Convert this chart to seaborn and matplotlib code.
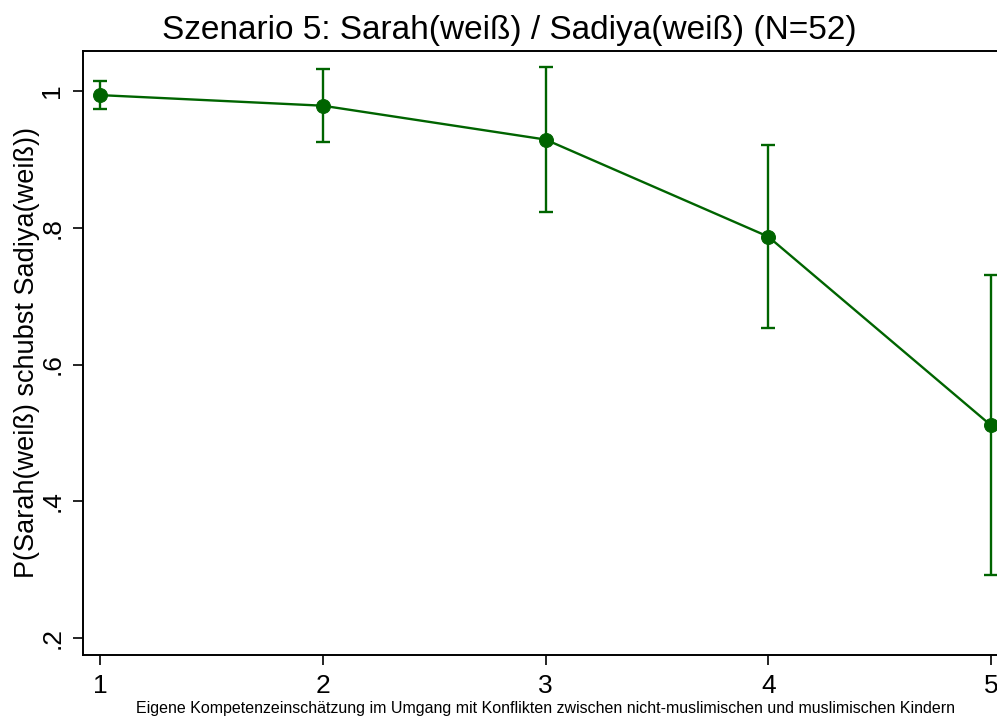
import matplotlib
matplotlib.use("Agg")
import matplotlib.pyplot as plt
import seaborn as sns
import pandas as pd

# Data
levels = [1, 2, 3, 4, 5]
prob = [0.994, 0.9785, 0.929, 0.787, 0.511]
ci_low = [0.973, 0.926, 0.823, 0.6535, 0.292]
ci_high = [1.015, 1.032, 1.035, 0.921, 0.731]
yticks = [0.2, 0.4, 0.6, 0.8, 1.0]
ytick_labels = [".2", ".4", ".6", ".8", "1"]

title = "Szenario 5: Sarah(weiß) / Sadiya(weiß) (N=52)"
xlabel = "Eigene Kompetenzeinschätzung im Umgang mit Konflikten zwischen nicht-muslimischen und muslimischen Kindern"
ylabel = "P(Sarah(weiß) schubst Sadiya(weiß))"

sns.set_theme(style="white")
plt.rcParams["font.family"] = ["Liberation Sans", "DejaVu Sans"]
plt.rcParams["text.color"] = "black"
plt.rcParams["xtick.color"] = "black"
plt.rcParams["ytick.color"] = "black"
plt.rcParams["axes.labelcolor"] = "black"

color = "#006400"
df = pd.DataFrame({"x": levels, "y": prob, "lo": ci_low, "hi": ci_high})

fig = plt.figure(figsize=(9.97, 7.17), dpi=100)
ax = fig.add_axes([83/997, 1 - 655/717, 925/997, (655 - 51)/717])

err_lo = [p - l for p, l in zip(prob, ci_low)]
err_hi = [h - p for p, h in zip(prob, ci_high)]
ax.errorbar(df["x"], df["y"], yerr=[err_lo, err_hi], fmt="none", ecolor=color,
            elinewidth=1.7, capsize=4.7, capthick=1.7, zorder=2)
sns.lineplot(data=df, x="x", y="y", ax=ax, color=color, marker="o",
             markersize=10, markeredgecolor=color, linewidth=1.7, zorder=3)

ax.set_xlim(1 - 17/222.75, 5 + 17/222.75)
ax.set_ylim(0.2 - 17/683.75, 1 + 40/683.75)
ax.set_xticks(levels)
ax.set_xticklabels([str(v) for v in levels], fontsize=19)
ax.set_yticks(yticks)
ax.set_yticklabels(ytick_labels, fontsize=19, rotation=90, va="center")
ax.tick_params(axis="both", direction="out", length=7.5, width=1.2, color="black",
               left=True, bottom=True)
ax.tick_params(axis="x", pad=6)
ax.tick_params(axis="y", pad=6)

for s in ["left", "bottom", "top"]:
    ax.spines[s].set_visible(True)
    ax.spines[s].set_color("black")
    ax.spines[s].set_linewidth(1.4)
ax.spines["right"].set_visible(False)

ax.set_xlabel("")
ax.set_ylabel("")
fig.text(27/997, 1 - 353/717, ylabel, ha="center", va="center", rotation=90,
         fontsize=19.5)
fig.text(545/997, 1 - 708/717, xlabel, ha="center", va="center", fontsize=11.5)
fig.text(509/997, 1 - 30/717, title, ha="center", va="center", fontsize=24)

fig.savefig("out.png", dpi=100)
